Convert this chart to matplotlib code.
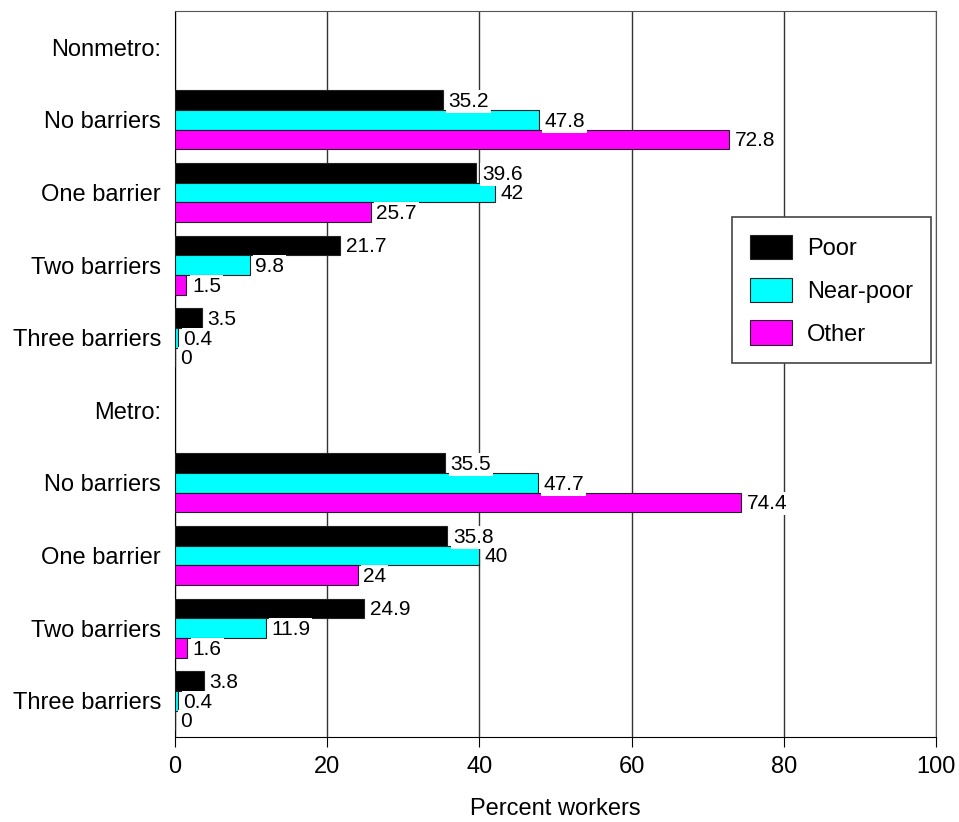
import numpy as np
import matplotlib.pyplot as plt

plt.rcParams['font.family'] = ['Liberation Sans', 'DejaVu Sans']

# category rows, top to bottom (headers have no bars)
rows = ['Nonmetro:', 'No barriers', 'One barrier', 'Two barriers', 'Three barriers',
        'Metro:', 'No barriers', 'One barrier', 'Two barriers', 'Three barriers']
bar_rows = [1, 2, 3, 4, 6, 7, 8, 9]

series = ['Poor', 'Near-poor', 'Other']
poor = [35.2, 39.6, 21.7, 3.5, 35.5, 35.8, 24.9, 3.8]
near_poor = [47.8, 42, 9.8, 0.4, 47.7, 40, 11.9, 0.4]
other = [72.8, 25.7, 1.5, 0, 74.4, 24, 1.6, 0]
colors = ['#000000', '#00ffff', '#ff00ff']

fig = plt.figure(figsize=(9.59, 8.22), dpi=100)
ax = fig.add_axes([175 / 959, 1 - 737 / 822, 761 / 959, 726 / 822])

h = 0.27
y = np.array(bar_rows, dtype=float)
for i, (name, vals, c) in enumerate(zip(series, [poor, near_poor, other], colors)):
    pos = y + (i - 1) * h
    ax.barh(pos, vals, height=h, color=c, edgecolor='#222222', linewidth=0.8,
            label=name, zorder=3)
    for p, v in zip(pos, vals):
        ax.annotate('%g' % v, (v, p), xytext=(4, -1), textcoords='offset points',
                    ha='left', va='center', fontsize=15, zorder=4,
                    bbox=dict(boxstyle='square,pad=0.1', fc='white', ec='none'))

ax.set_xlim(0, 100)
ax.set_ylim(9.5, -0.5)
ax.set_yticks(range(len(rows)))
ax.set_yticklabels(rows)
ax.tick_params(axis='y', length=0, labelsize=17, pad=10)
ax.set_xticks([0, 20, 40, 60, 80, 100])
ax.tick_params(axis='x', length=7, direction='out', labelsize=17, pad=7)
ax.grid(axis='x', color='#333333', linewidth=1, zorder=0)
for s in ['top', 'right']:
    ax.spines[s].set_color('#555555')
ax.set_xlabel('Percent workers', fontsize=17, labelpad=14)

leg = ax.legend(loc='upper left', bbox_to_anchor=(0.732, 0.716), borderaxespad=0,
                fontsize=17, handlelength=1.8, handleheight=1.2, labelspacing=0.75,
                handletextpad=0.64, borderpad=0.75, fancybox=False,
                framealpha=1, edgecolor='#444444')
leg.get_frame().set_linewidth(1.2)

fig.savefig('out.png', dpi=100)
